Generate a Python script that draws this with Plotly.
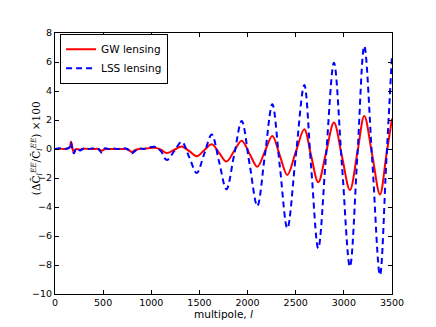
import plotly.graph_objects as go

# multipole sample points (at extrema / crossings)
ell = [0, 50, 100, 150, 166, 180, 197, 220, 260, 300, 350, 400, 450, 485, 520,
       560, 600, 650, 700, 750, 796, 830, 870, 920, 970, 1038, 1100, 1160, 1240,
       1316, 1395, 1472, 1550, 1628, 1705, 1780, 1860, 1939, 2020, 2101, 2180,
       2257, 2335, 2413, 2500, 2589, 2660, 2734, 2815, 2897, 2980, 3063, 3140,
       3212, 3295, 3375, 3440, 3500]

gw_lensing = [0.0, 0.02, 0.0, 0.1, 0.5, 0.1, -0.25, 0.0, -0.05, 0.02, 0.0, 0.0,
              0.0, -0.12, 0.0, 0.0, 0.0, 0.0, 0.0, 0.0, -0.2, -0.08, 0.0, 0.02,
              0.06, 0.08, -0.05, -0.28, -0.05, 0.18, -0.15, -0.5, -0.08, 0.33,
              -0.27, -0.87, -0.15, 0.57, -0.32, -1.22, -0.16, 0.9, -0.45, -1.79,
              -0.22, 1.36, -0.47, -2.3, -0.25, 1.82, -0.5, -2.83, -0.28, 2.28,
              -0.43, -3.13, -0.5, 2.1]

lss_lensing = [0.0, 0.05, 0.0, 0.1, 0.45, 0.0, -0.3, 0.05, -0.1, 0.05, 0.0,
               0.05, 0.0, -0.25, 0.05, 0.0, 0.05, 0.0, 0.05, 0.0, -0.3, -0.15,
               0.05, 0.0, 0.1, 0.15, -0.15, -0.76, -0.13, 0.5, -0.58, -1.65,
               -0.33, 1.0, -0.9, -2.78, -0.43, 1.93, -1.0, -3.93, -0.43, 3.08,
               -1.2, -5.47, -0.53, 4.41, -1.22, -6.85, -0.45, 5.95, -1.08, -8.11,
               -0.5, 7.1, -0.8, -8.69, -1.0, 6.5]

fig = go.Figure()
fig.add_trace(go.Scatter(x=ell, y=gw_lensing, mode="lines", name="GW lensing",
                         line=dict(color="#ff0000", width=2, shape="spline")))
fig.add_trace(go.Scatter(x=ell, y=lss_lensing, mode="lines", name="LSS lensing",
                         line=dict(color="#0000ff", width=2, dash="6px,4px",
                                   shape="spline")))

axis_style = dict(showgrid=False, zeroline=False, showline=True,
                  linecolor="black", linewidth=1, mirror="allticks",
                  ticks="inside", ticklen=4, tickcolor="black", automargin=False,
                  tickfont=dict(family="DejaVu Sans", size=9.5, color="black"))

fig.update_xaxes(range=[0, 3500], tickvals=list(range(0, 3501, 500)),
                 title=dict(text="multipole, <i>l</i>", standoff=1,
                            font=dict(family="DejaVu Sans", size=10.5,
                                      color="black")),
                 **axis_style)
fig.update_yaxes(range=[-10, 8], tickvals=list(range(-10, 9, 2)), **axis_style)

# y title as an annotation so it sits where the reference puts it
fig.add_annotation(text="(ΔC̃<sub><i>l</i></sub><sup><i>EE</i></sup>"
                        "/C̃<sub><i>l</i></sub><sup><i>EE</i></sup>) ×100",
                   xref="paper", yref="paper", x=-0.085, y=0.56,
                   textangle=-90, showarrow=False,
                   font=dict(family="DejaVu Serif", size=10.5, color="black"))

# page body adds an 8px offset, so the figure is 8px smaller than the window
fig.update_layout(width=428, height=319, plot_bgcolor="white",
                  paper_bgcolor="white",
                  margin=dict(l=47, r=44, t=25, b=33),
                  legend=dict(x=0.015, y=0.997, xanchor="left", yanchor="top",
                              bgcolor="white", bordercolor="black",
                              borderwidth=1, tracegroupgap=0,
                              font=dict(family="DejaVu Sans", size=10.5,
                                        color="black")))

fig.write_html("out.html")
